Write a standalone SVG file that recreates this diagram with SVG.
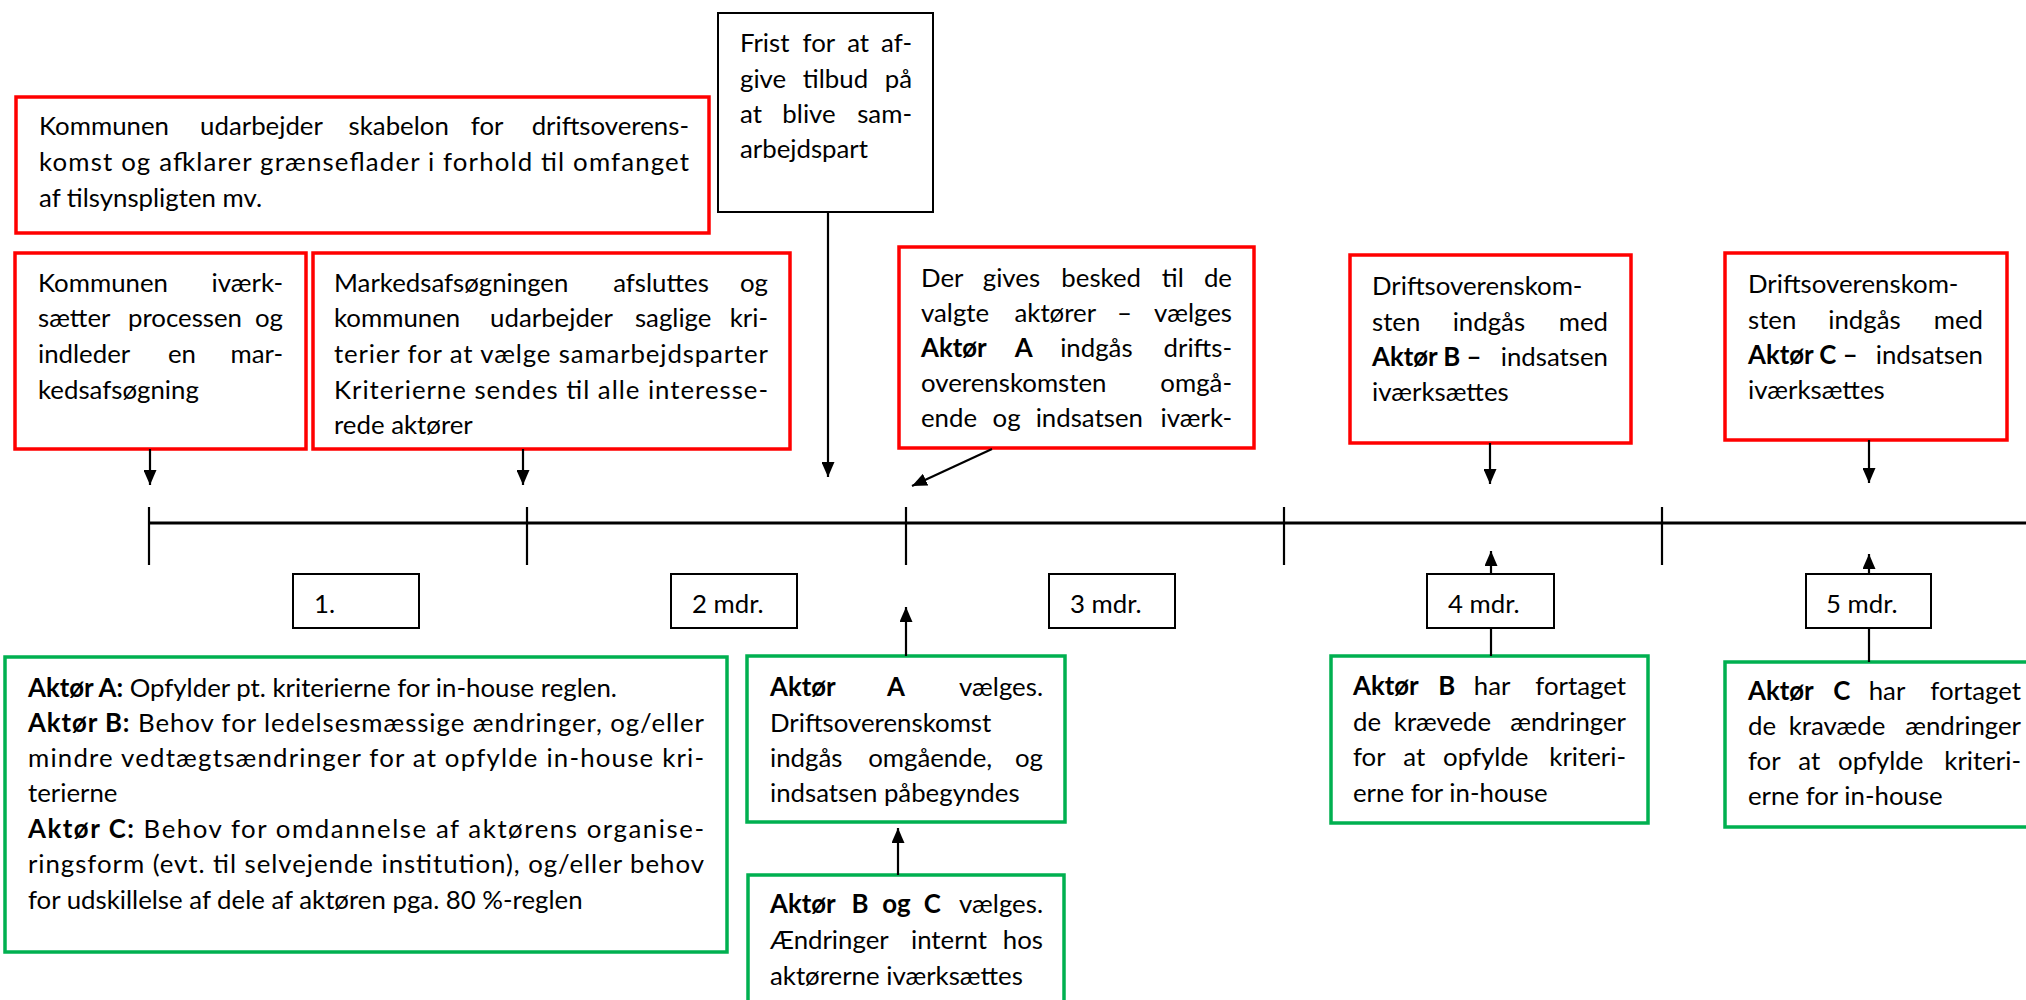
<svg xmlns="http://www.w3.org/2000/svg" width="2026" height="1000" viewBox="0 0 2026 1000">
<style>
.t{font-family:Lato,"Liberation Sans",sans-serif;font-size:25.8px;fill:#000}
.b{font-weight:700}
.m{text-anchor:middle}
.e{text-anchor:end}
.r{fill:#fff;stroke:#ff0000;stroke-width:3.5}
.g{fill:#fff;stroke:#00b050;stroke-width:3.5}
.k{fill:#fff;stroke:#000;stroke-width:2}
.ln{stroke:#000;stroke-width:2.2;fill:none}
.tl{stroke:#000;stroke-width:3;fill:none}
</style>
<defs>
<marker id="ah" viewBox="0 0 15 13" refX="15" refY="6.5" markerWidth="15" markerHeight="13" markerUnits="userSpaceOnUse" orient="auto">
<path d="M0,0 L15,6.5 L0,13 Z" fill="#000"/>
</marker>
</defs>
<rect width="2026" height="1000" fill="#fff"/>

<g id="timeline">
<line class="tl" x1="149" y1="523" x2="2042" y2="523" marker-end="url(#ah)"/>
<line class="ln" x1="149" y1="507" x2="149" y2="565"/>
<line class="ln" x1="527" y1="507" x2="527" y2="565"/>
<line class="ln" x1="906" y1="507" x2="906" y2="565"/>
<line class="ln" x1="1284" y1="507" x2="1284" y2="565"/>
<line class="ln" x1="1662" y1="507" x2="1662" y2="565"/>
</g>

<g id="n-skabelon">
<rect class="r" x="16" y="97" width="693" height="136"/>
<text class="t" y="135"><tspan x="39">Kommunen</tspan><tspan class="m" x="261.5">udarbejder</tspan><tspan class="m" x="398.7">skabelon</tspan><tspan class="m" x="487.1">for</tspan><tspan class="e" x="689">driftsoverens-</tspan></text>
<text class="t" x="39" y="171" textLength="650" lengthAdjust="spacing">komst og afklarer grænseflader i forhold til omfanget</text>
<text class="t" x="39" y="207">af tilsynspligten mv.</text>
</g>

<g id="n-frist">
<rect class="k" x="718" y="13" width="215" height="199"/>
<text class="t" y="52"><tspan x="740">Frist</tspan><tspan class="m" x="818.9">for</tspan><tspan class="m" x="858.1">at</tspan><tspan class="e" x="912">af-</tspan></text>
<text class="t" y="88"><tspan x="740">give</tspan><tspan class="m" x="835.5">tilbud</tspan><tspan class="e" x="912">på</tspan></text>
<text class="t" y="123"><tspan x="740">at</tspan><tspan class="m" x="809">blive</tspan><tspan class="e" x="912">sam-</tspan></text>
<text class="t" x="740" y="158">arbejdspart</text>
</g>

<g id="n-start">
<rect class="r" x="15" y="253" width="291" height="196"/>
<text class="t" y="292"><tspan x="38">Kommunen</tspan><tspan class="e" x="283">iværk-</tspan></text>
<text class="t" y="327"><tspan x="38">sætter</tspan><tspan class="m" x="185">processen</tspan><tspan class="e" x="283">og</tspan></text>
<text class="t" y="363"><tspan x="38">indleder</tspan><tspan class="m" x="182">en</tspan><tspan class="e" x="283">mar-</tspan></text>
<text class="t" x="38" y="399">kedsafsøgning</text>
</g>

<g id="n-kriterier">
<rect class="r" x="313" y="253" width="477" height="196"/>
<text class="t" y="292"><tspan x="334">Markedsafsøgningen</tspan><tspan class="m" x="661">afsluttes</tspan><tspan class="e" x="768">og</tspan></text>
<text class="t" y="327"><tspan x="334">kommunen</tspan><tspan class="m" x="551.5">udarbejder</tspan><tspan class="m" x="673.2">saglige</tspan><tspan class="e" x="768">kri-</tspan></text>
<text class="t" x="334" y="363" textLength="434" lengthAdjust="spacing">terier for at vælge samarbejdsparter</text>
<text class="t" x="334" y="399" textLength="434" lengthAdjust="spacing">Kriterierne sendes til alle interesse-</text>
<text class="t" x="334" y="434">rede aktører</text>
</g>

<g id="n-besked">
<rect class="r" x="899" y="247" width="355" height="201"/>
<text class="t" y="287"><tspan x="921">Der</tspan><tspan class="m" x="1011.4">gives</tspan><tspan class="m" x="1101.2">besked</tspan><tspan class="m" x="1172.8">til</tspan><tspan class="e" x="1232">de</tspan></text>
<text class="t" y="322"><tspan x="921">valgte</tspan><tspan class="m" x="1055.3">aktører</tspan><tspan class="m" x="1124.6">–</tspan><tspan class="e" x="1232">vælges</tspan></text>
<text class="t" y="357"><tspan class="b" x="921">Aktør</tspan><tspan class="b m" x="1023.6">A</tspan><tspan class="m" x="1096.4">indgås</tspan><tspan class="e" x="1232">drifts-</tspan></text>
<text class="t" y="392"><tspan x="921">overenskomsten</tspan><tspan class="e" x="1232">omgå-</tspan></text>
<text class="t" y="427"><tspan x="921">ende</tspan><tspan class="m" x="1006.6">og</tspan><tspan class="m" x="1089.3">indsatsen</tspan><tspan class="e" x="1232">iværk-</tspan></text>
</g>

<g id="n-aktoerB-drift">
<rect class="r" x="1350" y="255" width="281" height="188"/>
<text class="t" x="1372" y="295">Driftsoverenskom-</text>
<text class="t" y="331"><tspan x="1372">sten</tspan><tspan class="m" x="1488.9">indgås</tspan><tspan class="e" x="1608">med</tspan></text>
<text class="t" y="366"><tspan class="b" x="1372">Aktør B –</tspan><tspan class="e" x="1608">indsatsen</tspan></text>
<text class="t" x="1372" y="401">iværksættes</text>
</g>

<g id="n-aktoerC-drift">
<rect class="r" x="1725" y="253" width="282" height="187"/>
<text class="t" x="1748" y="293">Driftsoverenskom-</text>
<text class="t" y="329"><tspan x="1748">sten</tspan><tspan class="m" x="1864.5">indgås</tspan><tspan class="e" x="1983">med</tspan></text>
<text class="t" y="364"><tspan class="b" x="1748">Aktør C –</tspan><tspan class="e" x="1983">indsatsen</tspan></text>
<text class="t" x="1748" y="399">iværksættes</text>
</g>

<g id="m1"><rect class="k" x="293" y="574" width="126" height="54"/><text class="t" x="314" y="613">1.</text></g>
<g id="m2"><rect class="k" x="671" y="574" width="126" height="54"/><text class="t" x="692" y="613">2 mdr.</text></g>
<g id="m3"><rect class="k" x="1049" y="574" width="126" height="54"/><text class="t" x="1070" y="613">3 mdr.</text></g>
<g id="m4"><rect class="k" x="1427" y="574" width="127" height="54"/><text class="t" x="1448" y="613">4 mdr.</text></g>
<g id="m5"><rect class="k" x="1806" y="574" width="125" height="54"/><text class="t" x="1826" y="613">5 mdr.</text></g>

<g id="n-aktoerer">
<rect class="g" x="5" y="657" width="722" height="295"/>
<text class="t" x="28" y="697"><tspan class="b">Aktør A:</tspan> Opfylder pt. kriterierne for in-house reglen.</text>
<text class="t" x="28" y="732" textLength="676" lengthAdjust="spacing"><tspan class="b">Aktør B:</tspan> Behov for ledelsesmæssige ændringer, og/eller</text>
<text class="t" x="28" y="767" textLength="676" lengthAdjust="spacing">mindre vedtægtsændringer for at opfylde in-house kri-</text>
<text class="t" x="28" y="802">terierne</text>
<text class="t" x="28" y="838" textLength="676" lengthAdjust="spacing"><tspan class="b">Aktør C:</tspan> Behov for omdannelse af aktørens organise-</text>
<text class="t" x="28" y="873" textLength="676" lengthAdjust="spacing">ringsform (evt. til selvejende institution), og/eller behov</text>
<text class="t" x="28" y="909">for udskillelse af dele af aktøren pga. 80 %-reglen</text>
</g>

<g id="n-aktoerA-valg">
<rect class="g" x="747" y="656" width="318" height="166"/>
<text class="t" y="696"><tspan class="b" x="770">Aktør</tspan><tspan class="b m" x="895.9">A</tspan><tspan class="e" x="1043">vælges.</tspan></text>
<text class="t" x="770" y="732">Driftsoverenskomst</text>
<text class="t" y="767"><tspan x="770">indgås</tspan><tspan class="m" x="930.2">omgående,</tspan><tspan class="e" x="1043">og</tspan></text>
<text class="t" x="770" y="802">indsatsen påbegyndes</text>
</g>

<g id="n-aktoerBC-valg">
<rect class="g" x="748" y="875" width="316" height="140"/>
<text class="t" y="913"><tspan class="b" x="770">Aktør</tspan><tspan class="b m" x="859.9">B</tspan><tspan class="b m" x="896.4">og</tspan><tspan class="b m" x="932.4">C</tspan><tspan class="e" x="1043">vælges.</tspan></text>
<text class="t" y="949"><tspan x="770">Ændringer</tspan><tspan class="m" x="949">internt</tspan><tspan class="e" x="1043">hos</tspan></text>
<text class="t" x="770" y="985">aktørerne iværksættes</text>
</g>

<g id="n-aktoerB-klar">
<rect class="g" x="1331" y="656" width="317" height="167"/>
<text class="t" y="695"><tspan class="b" x="1353">Aktør</tspan><tspan class="b m" x="1446.7">B</tspan><tspan class="m" x="1492.1">har</tspan><tspan class="e" x="1626">fortaget</tspan></text>
<text class="t" y="731"><tspan x="1353">de</tspan><tspan class="m" x="1442.5">krævede</tspan><tspan class="e" x="1626">ændringer</tspan></text>
<text class="t" y="766"><tspan x="1353">for</tspan><tspan class="m" x="1414.2">at</tspan><tspan class="m" x="1485.8">opfylde</tspan><tspan class="e" x="1626">kriteri-</tspan></text>
<text class="t" x="1353" y="802">erne for in-house</text>
</g>

<g id="n-aktoerC-klar">
<rect class="g" x="1725" y="662" width="320" height="165"/>
<text class="t" y="700"><tspan class="b" x="1748">Aktør</tspan><tspan class="b m" x="1841.7">C</tspan><tspan class="m" x="1887">har</tspan><tspan class="e" x="2021">fortaget</tspan></text>
<text class="t" y="735"><tspan x="1748">de</tspan><tspan class="m" x="1837">kravæde</tspan><tspan class="e" x="2021">ændringer</tspan></text>
<text class="t" y="770"><tspan x="1748">for</tspan><tspan class="m" x="1809.2">at</tspan><tspan class="m" x="1880.7">opfylde</tspan><tspan class="e" x="2021">kriteri-</tspan></text>
<text class="t" x="1748" y="805">erne for in-house</text>
</g>

<g id="connectors">
<line class="ln" x1="150" y1="449" x2="150" y2="485" marker-end="url(#ah)"/>
<line class="ln" x1="523" y1="449" x2="523" y2="485" marker-end="url(#ah)"/>
<line class="ln" x1="828" y1="212" x2="828" y2="477" marker-end="url(#ah)"/>
<line class="ln" x1="992" y1="449" x2="912" y2="486" marker-end="url(#ah)"/>
<line class="ln" x1="1490" y1="443" x2="1490" y2="484" marker-end="url(#ah)"/>
<line class="ln" x1="1869" y1="440" x2="1869" y2="483" marker-end="url(#ah)"/>
<line class="ln" x1="906" y1="656" x2="906" y2="607" marker-end="url(#ah)"/>
<line class="ln" x1="898" y1="875" x2="898" y2="828" marker-end="url(#ah)"/>
<line class="ln" x1="1491" y1="656" x2="1491" y2="628"/>
<line class="ln" x1="1491" y1="574" x2="1491" y2="551" marker-end="url(#ah)"/>
<line class="ln" x1="1869" y1="662" x2="1869" y2="628"/>
<line class="ln" x1="1869" y1="574" x2="1869" y2="554" marker-end="url(#ah)"/>
</g>
</svg>
